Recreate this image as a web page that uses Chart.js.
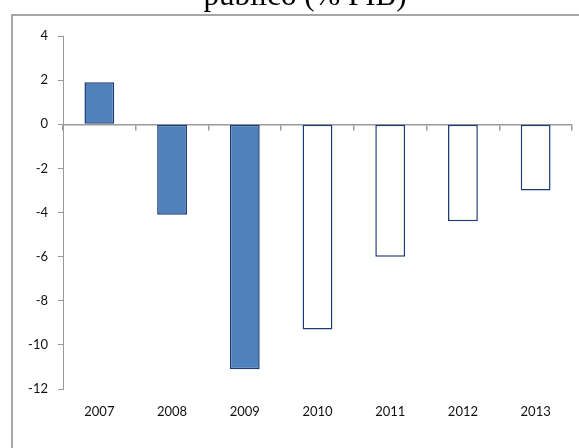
<!DOCTYPE html>
<html>
<head>
<meta charset="utf-8">
<script src="https://cdn.jsdelivr.net/npm/chart.js@4/dist/chart.umd.min.js"></script>
<style>
  html, body { margin: 0; padding: 0; background: #ffffff; }
  #wrap { position: relative; width: 579px; height: 448px; }
</style>
</head>
<body>
<div id="wrap"><canvas id="c" width="579" height="448"></canvas></div>
<script>
// Saldo público en % del PIB, 2007–2013
const years = ['2007', '2008', '2009', '2010', '2011', '2012', '2013'];
const balance = [1.9, -4.1, -11.1, -9.3, -6.0, -4.4, -3.0];
const observedYears = ['2007', '2008', '2009'];   // rest are projections
const titleText = 'público (% PIB)';
const yTicks = [4, 2, 0, -2, -4, -6, -8, -10, -12];

const NAVY = '#1C3A75';
const FILL = '#4F81BD';
const AXIS = '#9A9A9A';
const LABEL_FONT = { family: 'Lato, "Open Sans", sans-serif', size: 13 };

// Outer frame and the title that sits above it
const framePlugin = {
  id: 'frame',
  beforeDraw(chart) {
    const ctx = chart.ctx;
    ctx.save();
    ctx.fillStyle = '#ffffff';
    ctx.fillRect(0, 0, chart.width, chart.height);
    ctx.strokeStyle = '#A6A6A6';
    ctx.lineWidth = 2;
    ctx.beginPath();
    ctx.moveTo(chart.width, 15);
    ctx.lineTo(12, 15);
    ctx.lineTo(12, chart.height);
    ctx.stroke();
    ctx.restore();
  },
  afterDraw(chart) {
    const ctx = chart.ctx;
    ctx.save();
    ctx.fillStyle = '#000000';
    ctx.font = '31px "Liberation Serif", "Times New Roman", serif';
    ctx.textAlign = 'center';
    ctx.textBaseline = 'alphabetic';
    ctx.fillText(titleText, 305, 5);
    ctx.restore();
  }
};

new Chart(document.getElementById('c'), {
  type: 'bar',
  data: {
    labels: years,
    datasets: [{
      data: balance,
      backgroundColor: ctx => observedYears.includes(years[ctx.dataIndex]) ? FILL : '#ffffff',
      borderColor: NAVY,
      borderWidth: 1.5,
      borderSkipped: false,
      categoryPercentage: 1,
      barPercentage: 0.41
    }]
  },
  options: {
    responsive: false,
    animation: false,
    devicePixelRatio: 1,
    layout: { padding: { top: 36, right: 7, left: 0, bottom: 0 } },
    plugins: {
      legend: { display: false },
      tooltip: { enabled: false },
      title: { display: false }
    },
    scales: {
      x: {
        position: 'bottom',
        grid: { display: false, drawTicks: false },
        border: { display: false },
        ticks: { color: '#111111', font: LABEL_FONT, padding: 15, maxRotation: 0 },
        afterFit: s => { s.height = 59; }
      },
      x0: {
        type: 'category',
        position: { y: 0 },
        offset: true,
        grid: { offset: true, drawOnChartArea: false, drawTicks: true, tickLength: 5, color: AXIS, lineWidth: 1.5 },
        border: { display: true, color: AXIS, width: 1.5 },
        ticks: { display: false },
        afterFit: s => { s.height = 0; }
      },
      y: {
        min: -12,
        max: 4,
        afterBuildTicks: s => { s.ticks = yTicks.map(v => ({ value: v })); },
        grid: { drawOnChartArea: false, drawTicks: true, tickLength: 5, color: AXIS, lineWidth: 1 },
        border: { display: true, color: AXIS, width: 1 },
        ticks: { color: '#111111', font: LABEL_FONT, padding: 10 },
        afterFit: s => { s.width = 63; }
      }
    }
  },
  plugins: [framePlugin]
});
</script>
</body>
</html>
